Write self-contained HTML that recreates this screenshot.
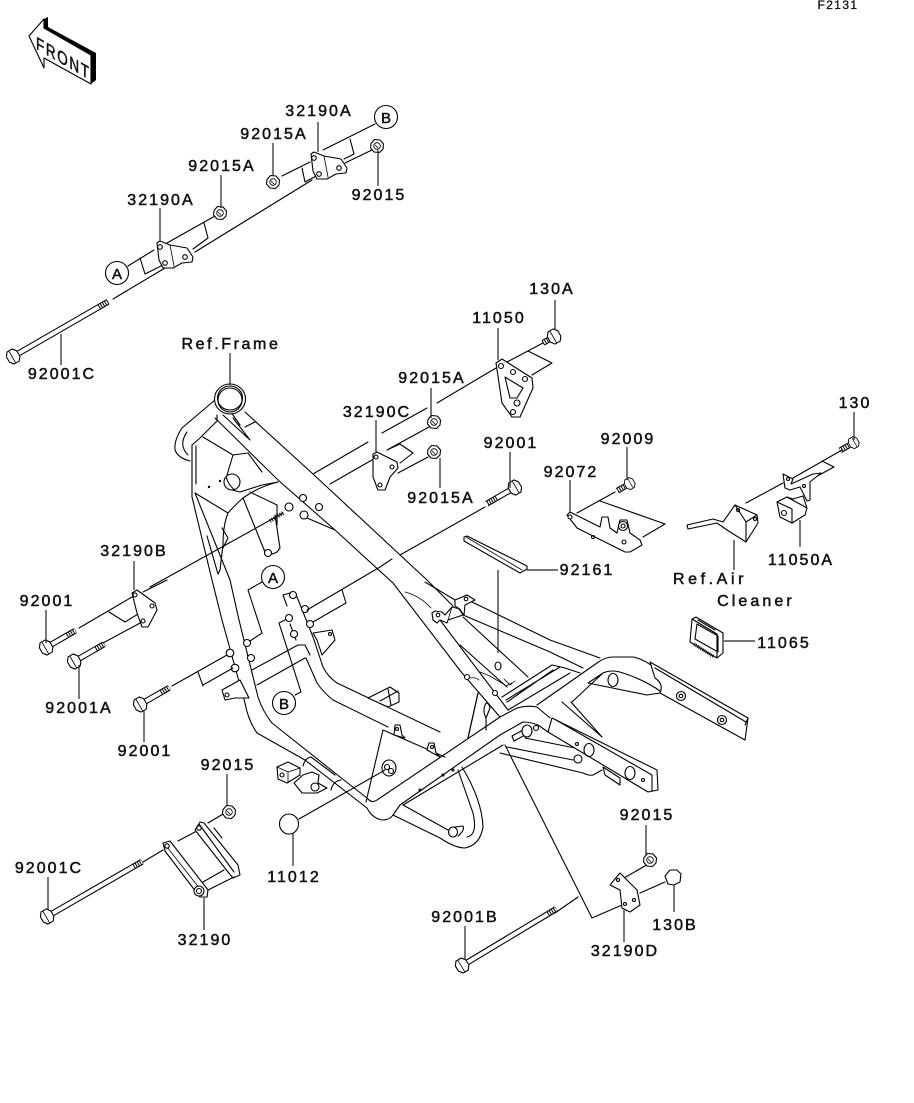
<!DOCTYPE html>
<html><head><meta charset="utf-8"><style>
html,body{margin:0;padding:0;background:#fff}
svg{display:block}
text{font-family:"Liberation Sans",sans-serif;font-size:16px;letter-spacing:2.05px;fill:#111;text-anchor:middle;stroke:#111;stroke-width:.5}
.f{fill:none;stroke:#000;stroke-width:1.1;stroke-linejoin:round;stroke-linecap:round}
.t{fill:none;stroke:#000;stroke-width:.8;stroke-linejoin:round;stroke-linecap:round}
.w{fill:#fff;stroke:#000;stroke-width:1.1;stroke-linejoin:round}
.l{fill:none;stroke:#222;stroke-width:1.2}
</style></head><body>
<svg width="914" height="1103" viewBox="0 0 914 1103" xmlns="http://www.w3.org/2000/svg">
<defs>
<g id="nut"><polygon class="w" points="-6,-2.5 -2.5,-6.5 3,-6 6.5,-2 6,3 2.5,6.5 -3,6 -6.5,2"/><circle r="3.3" class="t" fill="#fff"/><path class="t" d="M-2 -1L1 2"/></g>
<g id="hd"><polygon class="w" points="-7,-3 -4,-7 2,-7 5,-3 5,3 2,7 -4,7 -7,3"/><path class="t" d="M-2 -6.5V6.5"/></g>
</defs>
<rect width="914" height="1103" fill="#fff"/>

<!-- FRONT arrow -->
<polygon points="44,19 48,17 48,27 96,53 96,80 91,84 91,55 44,28" fill="#000"/>
<polygon class="w" points="29,36 44,19 44,28 91,55 91,84 44,58 44,68"/>
<g transform="matrix(.87,.5,0,1.15,36,43)"><text x="0" y="5" style="text-anchor:start;font-size:15.5px;letter-spacing:1.9px;stroke-width:.5">FRONT</text></g>

<!-- top assembly -->
<path class="f" d="M128 266L154 250M140 258L145 274L163 265M167 243L215 216M204 223L208 238L193 249M113 299L165 268M195 252L312 180M345 163L372 150M282 176L310 162M302 168L305 182L318 175M323 150L375 124M350 139L354 154L344 159"/>
<polygon class="w" points="157,243 160,241 170,245 187,248 193,257 192,262 182,263 173,268 163,268 159,260"/><circle class="w" cx="160" cy="247" r="2.3"/><circle class="w" cx="165" cy="263" r="2.3"/><circle class="w" cx="185" cy="257" r="2.3"/><path class="t" d="M170 245L174 266"/>
<g transform="translate(154,-89)"><polygon class="w" points="157,243 160,241 170,245 187,248 193,257 192,262 182,263 173,268 163,268 159,260"/><circle class="w" cx="160" cy="247" r="2.3"/><circle class="w" cx="165" cy="263" r="2.3"/><circle class="w" cx="185" cy="257" r="2.3"/><path class="t" d="M170 245L174 266"/></g>
<use href="#nut" x="220" y="213"/><use href="#nut" x="273" y="182"/><use href="#nut" x="377" y="146"/>
<circle class="w" cx="117" cy="273" r="11.5"/><text x="117" y="279" style="font-size:15px;letter-spacing:0">A</text>
<circle class="w" cx="386" cy="117" r="11.5"/><text x="386" y="123" style="font-size:15px;letter-spacing:0">B</text>
<g transform="translate(14,356) rotate(-30)"><path class="f" d="M5 -2.5H108M5 2.5H108"/><line x1="98" x2="109" y1="0" y2="0" stroke="#000" stroke-width="5" stroke-dasharray="1 1.4"/><use href="#hd"/></g>

<!-- frame -->
<g>
<!-- main tube -->
<path class="f" d="M245 412L313 474L427 580L453 606"/>
<path class="f" d="M215 418L278 480L335 530L393 583L462 673L500 717"/>
<path class="f" d="M440 620L508 710M460 645L507 687M463 617L528 677"/>
<!-- neck -->
<path class="f" d="M215 400L182 428Q174 440 175 450Q178 458 190 461M187 432Q178 445 188 455"/>
<path class="f" d="M223 415L250 440L233 418M245 427L255 422M226 405L240 425"/>
<ellipse class="w" cx="230" cy="399" rx="15.5" ry="15"/><ellipse class="f" cx="230" cy="398" rx="12.5" ry="12"/><ellipse class="f" cx="230" cy="400" rx="12" ry="12"/>
<!-- gusset and down tubes -->
<path class="f" d="M217 415V421L200 438L192 445V497L212 580L222 620L245 703Q248 720 257 733L305 760L367 808Q372 818 382 820Q390 820 393 815L400 805L500 735L523 722Q530 722 538 725L548 732"/>
<path class="f" d="M196 446V484"/>
<path class="f" d="M195 493L230 580L239 620L258 697Q263 712 272 723L340 777L367 798Q372 804 377 800L500 717L517 708Q527 705 537 707L550 718"/>
<path class="f" d="M403 805L503 745M195 493L228 513M203 437L233 455L227 475L232 490L240 492L262 485L278 482M233 455L248 453L262 472"/>
<path class="f" d="M278 482Q258 487 243 498Q235 505 228 513Q223 525 223 545L220 570L218 574L207 536"/>
<path class="f" d="M250 492L277 505V525M243 498L265 552Q270 556 277 552L280 548L275 515"/>
<path class="f" d="M223 548L228 538L222 528"/>
<circle class="w" cx="232" cy="482" r="8"/><path class="f" d="M226 477Q229 486 235 490"/>
<circle fill="#000" cx="220" cy="481" r="1.2"/><circle fill="#000" cx="209" cy="487" r="1.2"/>
<circle class="w" cx="289" cy="507" r="4"/><circle class="w" cx="303" cy="498" r="3.5"/><circle class="w" cx="319" cy="507" r="3.5"/><circle class="w" cx="304" cy="515" r="4"/><circle class="w" cx="268" cy="553" r="3.5"/>
<path class="f" d="M307 518L335 530"/>
<!-- inner U tube -->
<path class="f" d="M283 595L290 593L297 597L313 637L323 667Q328 677 337 683L440 732M283 595L287 606M306 658L317 683Q323 692 333 700L388 727"/>
<path class="f" d="M252 670L298 645L305 645L310 655M257 685L305 658M296 640L290 624"/>
<circle class="w" cx="293" cy="595" r="3.5"/><circle class="w" cx="305" cy="609" r="3.5"/><circle class="w" cx="310" cy="624" r="3.5"/><circle class="w" cx="289" cy="618" r="3.5"/><circle class="w" cx="294" cy="634" r="3.5"/><circle class="w" cx="247" cy="643" r="3.5"/><circle class="w" cx="251" cy="658" r="3.5"/><circle class="w" cx="230" cy="653" r="3.8"/><circle class="w" cx="235" cy="668" r="3.8"/>
<path class="w" d="M313 633L332 630L335 640L322 655L317 640Z"/><circle class="f" cx="330" cy="634" r="1.5"/>
<path class="w" d="M222 690L240 680L249 698L240 698L235 698L225 700Z"/><circle class="f" cx="227" cy="695" r="2"/>
<!-- plate and lower loop -->
<path class="f" d="M383 730L366 802M383 730L445 757M478 693L468 738M393 815L440 838Q455 848 465 848Q480 845 483 827Q482 800 462 767M403 805L448 830M458 770L473 813Q478 835 467 837"/>
<path class="w" d="M368 698L390 687L399 693V702L388 707Z"/><path class="f" d="M380 701L398 691M388 689L391 705"/>
<path class="w" d="M394 735L395 725L400 725L402 735L405 738Z"/><path class="w" d="M427 750L429 743L434 743L436 753L440 757Z"/>
<circle class="f" cx="397" cy="729" r="1.5"/><circle class="f" cx="432" cy="747" r="1.5"/>
<ellipse class="f" cx="389" cy="768" rx="7" ry="8"/><circle class="f" cx="387" cy="767" r="2.5"/><circle class="f" cx="391" cy="771" r="2.5"/>
<ellipse class="w" cx="453" cy="832" rx="4.5" ry="5"/><path class="f" d="M455 827L463 826Q465 830 458 836"/>
<!-- shock mounts -->
<polygon class="w" points="277,767 288,762 300,768 300,775 287,783 278,779"/><circle class="f" cx="282" cy="775" r="2"/><path class="t" d="M277 767L288 772L300 768M288 772V783"/>
<polygon class="w" points="294,783 303,775 312,772 319,775 318,783 327,788 317,793 302,793"/><circle class="f" cx="315" cy="787" r="4"/>
<path class="f" d="M303 766Q305 758 311 757L335 775M331 790Q333 781 341 780"/>
<!-- rails -->
<path class="f" d="M472 602L550 640L600 658M425 582L455 600M463 615L550 652L583 668"/>
<path class="f" d="M502 697L552 665L565 668L580 673M507 702L553 670M508 710L570 673M506 700L560 667M468 738L478 693M486 703Q482 710 486 718L490 708Q489 703 486 703ZM486 718V730"/>
<polygon class="w" points="455,600 467,595 475,600 465,605 464,615 458,608 455,606"/><circle class="f" cx="466" cy="599" r="1.8"/>
<path class="w" d="M432 613L435 611L442 612L445 615L452 607L460 609L463 615L448 620L447 623L440 620L437 623L433 620Z"/><circle class="f" cx="438" cy="615" r="1.8"/><path class="t" d="M452 607L448 620M458 608L463 615"/>
<circle class="w" cx="467" cy="677" r="2.5"/><circle class="w" cx="495" cy="693" r="2.5"/>
<path class="t" d="M405 592Q420 596 431 608M470 678Q476 677 479 680M480 672L490 676L505 685M504 679L510 685L515 681M506 686L512 683"/><ellipse class="f" cx="498" cy="666" rx="3" ry="4"/>
<!-- rear upper loop -->
<path class="f" d="M537 705L597 663Q605 657 613 657H633Q645 659 657 670M572 702L603 673Q612 669 623 673Q645 680 663 693M588 683L603 673M588 683L647 695L660 693"/>
<ellipse class="f" cx="613" cy="680" rx="5" ry="6.5"/>
<path class="w" d="M650 662L748 718L745 740L660 693Q664 684 655 678Z"/><path class="f" d="M655 668L746 722M745 725L748 718"/>
<circle class="f" cx="681" cy="696" r="4.5"/><circle class="f" cx="681" cy="696" r="1.8"/><circle class="f" cx="722" cy="720" r="4.5"/><circle class="f" cx="722" cy="720" r="1.8"/>
<!-- lower rear box -->
<path class="f" d="M562 702L602 737M571 702L602 737"/>
<path class="w" d="M552 718L657 770L658 790L648 792L548 732Z"/><path class="f" d="M556 720L652 775M652 775V791"/>
<ellipse class="f" cx="589" cy="750" rx="5" ry="6.5"/><ellipse class="f" cx="630" cy="773" rx="5" ry="6.5"/><circle class="f" cx="577" cy="744" r="1.5"/><circle class="f" cx="643" cy="780" r="1.5"/>
<path class="f" d="M500 753L583 773Q590 776 593 775L602 770M507 747L573 760M525 738L575 748"/>
<path class="w" d="M512 736L523 730L525 735L514 741Z"/><ellipse class="w" cx="527" cy="731" rx="5" ry="6"/>
<circle class="w" cx="578" cy="759" r="4"/><circle class="w" cx="536" cy="728" r="2.5"/>
<polygon class="w" points="603,767 620,778 620,785 605,775"/>
<circle class="f" cx="453" cy="770" r="1"/><circle class="f" cx="443" cy="775" r="1"/><circle class="f" cx="420" cy="790" r="1"/>
</g>

<!-- 32190C group -->
<path class="f" d="M313 474L368 442M382 433L427 408M437 403L496 368M330 484L372 460M387 450L429 427M398 473L428 457M387 450L400 444L413 453L400 463"/>
<polygon class="w" points="373,454 377,452 397,462 398,468 390,477 385,490 378,490 373,477"/><circle class="w" cx="376" cy="457" r="2"/><circle class="w" cx="392" cy="467" r="2"/><circle class="w" cx="380" cy="485" r="2"/>
<use href="#nut" x="434" y="422"/><use href="#nut" x="434" y="452"/>

<!-- long lines -->
<path class="f" d="M150 587L283 513M143 592L167 580M485 507L400 555M392 559L380 567L307 610M342 590L346 603L313 622M262 582L248 590L262 633L250 641M295 695L301 692L279 623L285 620M299 819L385 770M505 745L592 918L622 905M555 913L578 897M650 863L612 885M665 882L640 893"/>
<path d="M283 513L270 521" stroke="#000" stroke-width="4" stroke-dasharray="1 1.4"/>
<circle class="w" cx="273" cy="577" r="11.5"/><text x="273" y="583" style="font-size:15px;letter-spacing:0">A</text>
<circle class="w" cx="284" cy="703" r="11.5"/><text x="284" y="709" style="font-size:15px;letter-spacing:0">B</text>
<ellipse class="w" cx="289" cy="824" rx="9.5" ry="10"/>

<!-- 11050 -->
<path class="f" d="M507 362L543 343M528 351L552 363L532 375"/>
<polygon class="w" points="496,363 502,359 532,378 533,388 520,417 512,417 502,403"/>
<path class="f" d="M505 377L523 388L517 398L510 398Z"/><circle class="w" cx="501" cy="366" r="2.5"/><circle class="w" cx="525" cy="379" r="2.5"/><circle class="w" cx="513" cy="412" r="2.5"/><circle class="w" cx="513" cy="372" r="2.5"/><circle class="f" cx="517" cy="403" r="3"/>
<g transform="translate(555,336) rotate(-30)"><path class="f" d="M-13 -2.5H5M-13 2.5H5"/><line x1="-14" x2="-4" y1="0" y2="0" stroke="#000" stroke-width="5" stroke-dasharray="1 1.4"/><use href="#hd"/></g>

<!-- 92001 bolt -->
<g transform="translate(514,488) rotate(150)"><path class="f" d="M5 -2.5H31M5 2.5H31"/><line x1="20" x2="32" y1="0" y2="0" stroke="#000" stroke-width="5" stroke-dasharray="1 1.4"/><use href="#hd"/></g>

<!-- 92072 -->
<path class="f" d="M615 492L577 513M600 501L665 524L643 537"/>
<polygon class="w" points="567,515 570,512 600,527 602,517 608,517 610,528 617,533 620,520 627,520 630,533 640,540 642,545 630,552 625,552 577,528"/>
<circle class="w" cx="570" cy="517" r="2"/><circle class="w" cx="624" cy="542" r="2"/><circle class="f" cx="593" cy="537" r="1.5"/><circle class="w" cx="623" cy="526" r="4.5"/><circle class="f" cx="623" cy="526" r="2"/>
<g transform="translate(629,484) rotate(150)"><path class="f" d="M5 -2.5H13M5 2.5H13"/><line x1="5" x2="14" y1="0" y2="0" stroke="#000" stroke-width="5" stroke-dasharray="1 1.4"/><use href="#hd" transform="scale(.8)"/></g>

<!-- air cleaner bracket -->
<polygon class="w" points="687,525 713,519 723,522 735,505 757,515 758,523 746,542 727,530 717,523 688,529"/>
<path class="f" d="M746 522L746 542M735 505L746 522L757 515"/><circle class="f" cx="738" cy="510" r="1.5"/><circle class="f" cx="755" cy="519" r="1.5"/>
<path class="f" d="M746 503L783 483M793 478L842 450M822 461L834 467L810 480"/>
<path class="w" d="M783 474L793 479L791 484L813 474L821 473L810 482V500L807 501L800 487L790 490L785 488Z"/>
<circle class="f" cx="788" cy="479" r="1.5"/><circle class="f" cx="804" cy="486" r="1.5"/>
<path class="w" d="M777 502L787 497L793 499L803 496L807 508L805 515L792 523L780 517Z"/><path class="f" d="M787 497L807 508M792 509L792 523M792 509L777 502"/><circle class="f" cx="784" cy="513" r="2.5"/>
<g transform="translate(853,443) rotate(150)"><path class="f" d="M5 -2.5H14M5 2.5H14"/><line x1="5" x2="15" y1="0" y2="0" stroke="#000" stroke-width="5" stroke-dasharray="1 1.4"/><use href="#hd" transform="scale(.8)"/></g>

<!-- strip -->
<polygon class="w" points="464,537 467,536 527,566 527,569 520,573 464,541"/>
<path class="t" d="M466 537L522 570"/>
<line class="l" x1="498" y1="570" x2="498" y2="653"/>

<!-- ECU -->
<path d="M692 642L716 658L717 652L692 637Z" fill="#333"/>
<path class="w" d="M692 619L696 617L723 633V653L717 658L690 642Z"/>
<path class="f" d="M697 624L718 636V652L695 639ZM692 619L717 634L717 658"/>
<path class="f" d="M698 620L715 630"/><path d="M694 644L714 657" stroke="#000" stroke-width="3" stroke-dasharray="1 1"/>

<!-- left bolts and plate 32190B -->
<path class="f" d="M79 628L132 597M109 612L125 622L148 608M103 643L142 622M172 686L227 655M203 685L233 668M198 672L203 686"/>
<polygon class="w" points="132,593 137,590 155,603 157,610 148,627 142,627 137,613"/><circle class="w" cx="135" cy="595" r="2"/><circle class="w" cx="152" cy="606" r="2"/><circle class="w" cx="143" cy="621" r="2"/>
<g transform="translate(47,647) rotate(-30)"><path class="f" d="M5 -2.5H32M5 2.5H32"/><line x1="23" x2="33" y1="0" y2="0" stroke="#000" stroke-width="5" stroke-dasharray="1 1.4"/><use href="#hd"/></g>
<g transform="translate(75,661) rotate(-30)"><path class="f" d="M5 -2.5H33M5 2.5H33"/><line x1="24" x2="34" y1="0" y2="0" stroke="#000" stroke-width="5" stroke-dasharray="1 1.4"/><use href="#hd"/></g>
<g transform="translate(141,704) rotate(-30)"><path class="f" d="M5 -2.5H32M5 2.5H32"/><line x1="23" x2="33" y1="0" y2="0" stroke="#000" stroke-width="5" stroke-dasharray="1 1.4"/><use href="#hd"/></g>

<!-- lower link 32190 -->
<path class="f" d="M143 862L163 850M178 841L195 832M208 823L223 814"/>
<g transform="translate(48,916) rotate(-30)"><path class="f" d="M5 -2.5H108M5 2.5H108"/><line x1="99" x2="109" y1="0" y2="0" stroke="#000" stroke-width="5" stroke-dasharray="1 1.4"/><use href="#hd"/></g>
<path class="w" d="M195 830L200 822L204 823L238 865L240 875L233 878L228 872Z"/>
<path class="f" d="M203 882L224 870M208 890L234 877M199 824L234 872M214 828L222 838"/>
<polygon class="w" points="163,843 170,841 208,890 207,897 200,897 193,888 165,851"/>
<path class="t" d="M167 847L200 889"/><circle class="w" cx="167" cy="846" r="2.2"/><circle class="w" cx="199" cy="828" r="2.2"/><circle class="w" cx="199" cy="891" r="5"/><circle class="f" cx="199" cy="891" r="2.5"/>
<use href="#nut" x="229" y="812"/>

<!-- lower right -->
<g transform="translate(463,965) rotate(-31)"><path class="f" d="M5 -2.5H108M5 2.5H108"/><line x1="99" x2="109" y1="0" y2="0" stroke="#000" stroke-width="5" stroke-dasharray="1 1.4"/><use href="#hd"/></g>
<polygon class="w" points="610,885 620,873 637,890 640,905 630,912 622,908 620,890"/><circle class="f" cx="618" cy="880" r="1.5"/><circle class="f" cx="634" cy="900" r="1.5"/><circle class="f" cx="625" cy="904" r="1.5"/>
<use href="#nut" x="650" y="860"/>
<path class="w" d="M665 876L670 870H677L681 874L680 882L674 885L668 884Z"/>

<!-- leaders -->
<path class="l" d="M318 122V152M273 143V176M221 175V208M160 208V241M378 150V186M61 334V365M230 353V385M555 300V330M498 328V360M431 388V418M376 420V452M440 458V488M510 452V488M627 447V480M570 480V512M854 412V440M800 520V547M734 540V570M527 570H558M724 641H755M134 561V590M46 610V643M79 665V699M144 710V742M227 774V805M48 877V910M204 898V930M293 834V866M646 825V855M674 885V912M465 926V960M624 910V942"/>

<!-- labels -->
<text x="838" y="9" style="font-size:12px;letter-spacing:1.4px;stroke-width:.3">F2131</text>
<g transform="translate(1,0)">
<text x="318" y="116">32190A</text>
<text x="273" y="139">92015A</text>
<text x="221" y="171">92015A</text>
<text x="160" y="205">32190A</text>
<text x="378" y="200">92015</text>
<text x="61" y="379">92001C</text>
<text x="230" y="349" style="letter-spacing:2.6px">Ref.Frame</text>
<text x="551" y="294">130A</text>
<text x="498" y="323">11050</text>
<text x="431" y="383">92015A</text>
<text x="376" y="417">32190C</text>
<text x="510" y="448">92001</text>
<text x="627" y="444">92009</text>
<text x="570" y="477">92072</text>
<text x="440" y="503">92015A</text>
<text x="854" y="408">130</text>
<text x="800" y="565">11050A</text>
<text x="586" y="575">92161</text>
<text x="709" y="584" style="letter-spacing:3.6px">Ref.Air</text>
<text x="755" y="606" style="letter-spacing:3.1px">Cleaner</text>
<text x="783" y="648">11065</text>
<text x="133" y="556">32190B</text>
<text x="46" y="606">92001</text>
<text x="78" y="713">92001A</text>
<text x="144" y="756">92001</text>
<text x="227" y="770">92015</text>
<text x="48" y="873">92001C</text>
<text x="293" y="882">11012</text>
<text x="204" y="945">32190</text>
<text x="646" y="820">92015</text>
<text x="674" y="930">130B</text>
<text x="464" y="922">92001B</text>
<text x="624" y="956">32190D</text>
</g>
</svg>
</body></html>
